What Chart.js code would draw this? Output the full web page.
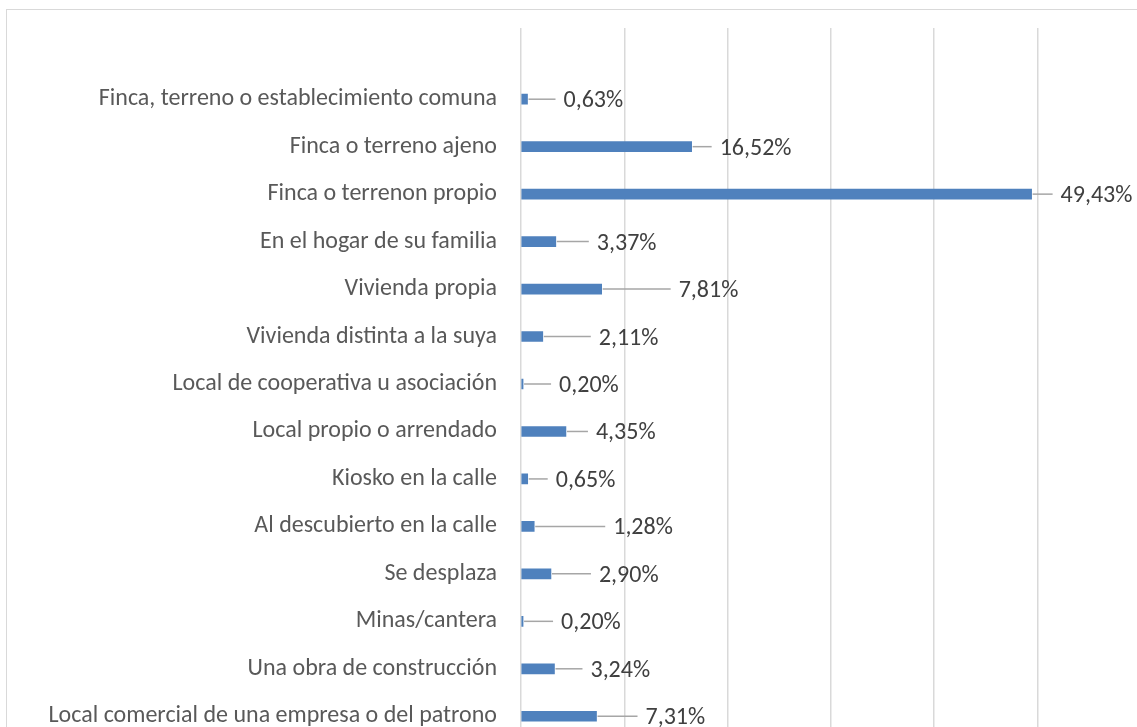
<!DOCTYPE html>
<html>
<head>
<meta charset="utf-8">
<script src="https://cdn.jsdelivr.net/npm/chart.js@4/dist/chart.umd.min.js"></script>
<style>
  html, body { margin: 0; padding: 0; background: #fff; overflow: hidden; }
  #frame {
    position: absolute; left: 6px; top: 9px;
    width: 1140px; height: 740px;
    border: 1px solid #d9d9d9; background: #fff;
  }
  #chart { display: block; }
</style>
</head>
<body>
<div id="frame"><canvas id="chart" width="1130" height="730"></canvas></div>
<script>
  // categorías (de arriba hacia abajo) y porcentajes
  const categories = [
    'Finca, terreno o establecimiento comuna',
    'Finca o terreno ajeno',
    'Finca o terrenon propio',
    'En el hogar de su familia',
    'Vivienda propia',
    'Vivienda distinta a la suya',
    'Local de cooperativa u asociación',
    'Local propio o arrendado',
    'Kiosko en la calle',
    'Al descubierto en la calle',
    'Se desplaza',
    'Minas/cantera',
    'Una obra de construcción',
    'Local comercial de una empresa o del patrono'
  ];
  const values = [0.63, 16.52, 49.43, 3.37, 7.81, 2.11, 0.20, 4.35, 0.65, 1.28, 2.90, 0.20, 3.24, 7.31];
  const xTicks = [0, 10, 20, 30, 40, 50];

  // largo de la línea guía de cada etiqueta (px), tal como quedaron en el original
  const leaderLen = [28, 20, 21, 33, 69, 48, 28, 22, 20, 71, 40, 30, 28, 41];

  const FONT = 'Carlito, "Open Sans", sans-serif';

  const fmt = v => v.toFixed(2).replace('.', ',') + '%';

  // dibuja línea guía + etiqueta de valor al final de cada barra
  const leaderLabels = {
    id: 'leaderLabels',
    afterDatasetsDraw(chart) {
      const ctx = chart.ctx;
      const meta = chart.getDatasetMeta(0);
      ctx.save();
      ctx.font = '24px ' + FONT;
      ctx.textBaseline = 'middle';
      ctx.textAlign = 'left';
      meta.data.forEach((bar, i) => {
        const x0 = bar.x + 1;
        const x1 = bar.x + leaderLen[i];
        ctx.strokeStyle = '#a6a6a6';
        ctx.lineWidth = 1.5;
        ctx.beginPath();
        ctx.moveTo(x0, bar.y);
        ctx.lineTo(x1, bar.y);
        ctx.stroke();
        ctx.fillStyle = '#404040';
        ctx.fillText(fmt(values[i]), x1 + 8, bar.y + 2);
      });
      ctx.restore();
    }
  };

  const ctx = document.getElementById('chart').getContext('2d');
  const chart = new Chart(ctx, {
    type: 'bar',
    data: {
      datasets: [{
        data: values.map((v, i) => ({ x: v, y: i })),
        backgroundColor: '#4f81bd',
        barThickness: 10
      }]
    },
    options: {
      indexAxis: 'y',
      responsive: false,
      animation: false,
      layout: { padding: { top: 18, right: 99.5, bottom: 0, left: 0 } },
      plugins: {
        legend: { display: false },
        tooltip: { enabled: false }
      },
      scales: {
        x: {
          type: 'linear',
          bounds: 'data',
          min: xTicks[0],
          max: xTicks[xTicks.length - 1],
          afterBuildTicks: s => { s.ticks = xTicks.map(v => ({ value: v })); },
          afterFit: s => { s.height = 0; },
          ticks: { display: false },
          grid: { color: '#d9d9d9', lineWidth: 1.5, drawTicks: false },
          border: { display: false }
        },
        y: {
          type: 'linear',
          bounds: 'data',
          offset: false,
          reverse: true,
          min: -1.5,
          max: categories.length - 0.5,
          afterBuildTicks: s => { s.ticks = categories.map((c, i) => ({ value: i })); },
          afterFit: s => { s.width = 514; s.paddingTop = 0; s.paddingBottom = 0; },
          ticks: {
            callback: v => categories[v],
            color: '#595959',
            font: { family: FONT, size: 24 },
            padding: 24,
            autoSkip: false
          },
          grid: { display: false, drawTicks: false, offset: false },
          border: { display: false }
        }
      }
    },
    plugins: [leaderLabels]
  });
</script>
</body>
</html>
